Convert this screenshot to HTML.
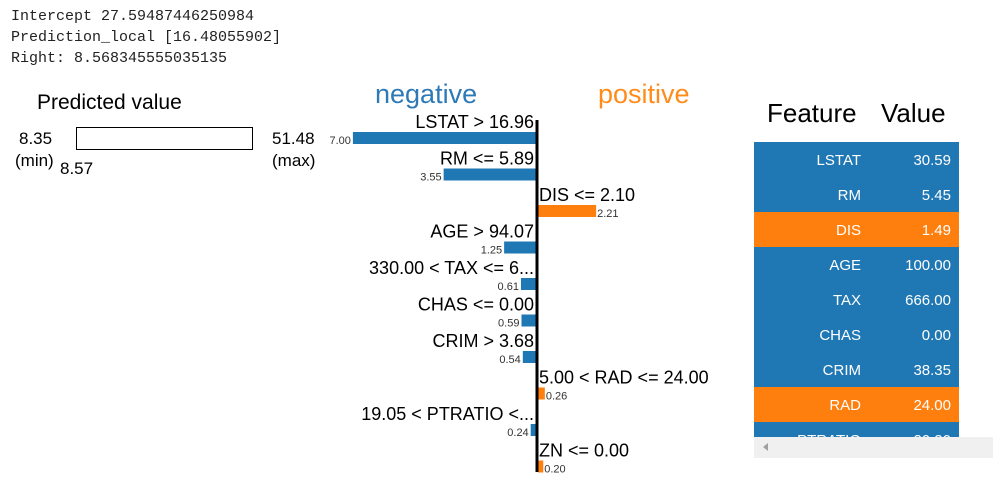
<!DOCTYPE html>
<html><head><meta charset="utf-8"><style>
body{margin:0;background:#fff;width:993px;height:484px;overflow:hidden;font-family:"Liberation Sans","DejaVu Sans",sans-serif}
pre{position:absolute;left:11px;top:6px;margin:0;font:15px/21px "Liberation Mono",monospace;color:#222}
svg{position:absolute;left:0;top:0}
</style></head><body>
<pre>Intercept 27.59487446250984
Prediction_local [16.48055902]
Right: 8.568345555035135</pre>
<svg id="c" width="993" height="484">
<text x="37" y="109" font-size="21" fill="#000">Predicted value</text>
<rect x="76.5" y="127.5" width="176" height="22" fill="#fff" stroke="#000"/>
<text x="19" y="144" font-size="17">8.35</text>
<text x="15" y="166" font-size="17">(min)</text>
<text x="60" y="174" font-size="17">8.57</text>
<text x="272" y="144" font-size="17">51.48</text>
<text x="272" y="166" font-size="17">(max)</text>
<text x="375" y="103" font-size="27" fill="#2e7ab6">negative</text>
<text x="598" y="103" font-size="27" fill="#ff8c1a">positive</text>
<g id="bars"></g>
<text x="767" y="122" font-size="26">Feature</text>
<text x="881" y="122" font-size="26">Value</text>
<g id="tbl"></g>
<rect x="754" y="437" width="239" height="21" fill="#f0f0f0"/>
<path d="M763 447l5 -4v8z" fill="#a0a0a0"/>
</svg>
<script>
const labels=["LSTAT > 16.96","RM <= 5.89","DIS <= 2.10","AGE > 94.07","330.00 < TAX <= 6...","CHAS <= 0.00","CRIM > 3.68","5.00 < RAD <= 24.00","19.05 < PTRATIO <...","ZN <= 0.00"];
const weights=[-7.00,-3.55,2.21,-1.25,-0.61,-0.59,-0.54,0.26,-0.24,0.20];
const tFeat=["LSTAT","RM","DIS","AGE","TAX","CHAS","CRIM","RAD","PTRATIO"];
const tVals=["30.59","5.45","1.49","100.00","666.00","0.00","38.35","24.00","20.20"];
const tPos=[false,false,true,false,false,false,false,true,false];
const NS="http://www.w3.org/2000/svg";
const axX=537,scale=26.3,y0=132,step=36.5;
const g=document.getElementById('bars');
function mk(t,a,p){const e=document.createElementNS(NS,t);for(const k in a)e.setAttribute(k,a[k]);(p||g).appendChild(e);return e;}
weights.forEach((w,i)=>{
 const y=y0+i*step,len=Math.abs(w)*scale,neg=w<0;
 const r=mk('rect',{x:neg?axX-len:axX+1,y:y,width:len,height:12,fill:neg?'#1f77b4':'#ff7f0e'});
 
 
 const l=mk('text',{x:neg?axX-3:axX+2,y:y-4,'font-size':18,'text-anchor':neg?'end':'start'});l.textContent=labels[i];
 
 
 const v=mk('text',{x:neg?axX-len-2:axX+len+2,y:y+12,'font-size':11,'text-anchor':neg?'end':'start',fill:'#333'});v.textContent=Math.abs(w).toFixed(2);
 
 
});
const ax=mk('line',{x1:axX,x2:axX,y1:120,y2:472,stroke:'#000','stroke-width':3});


const tb=document.getElementById('tbl');
const cp=mk('clipPath',{id:'tc'},tb);mk('rect',{x:754,y:142,width:205,height:295},cp);
const tg=mk('g',{'clip-path':'url(#tc)'},tb);
tFeat.forEach((f,i)=>{
 const y=142+i*35;
 const r=mk('rect',{x:754,y:y,width:205,height:35,fill:tPos[i]?'#ff7f0e':'#1f77b4'},tg);
 
 
 const a=mk('text',{x:861,y:y+23,'font-size':15,fill:'#fff','text-anchor':'end'},tg);a.textContent=f;
 
 
 const b=mk('text',{x:951,y:y+23,'font-size':15,fill:'#fff','text-anchor':'end'},tg);b.textContent=tVals[i];
 
 
});
</script>
</body></html>
